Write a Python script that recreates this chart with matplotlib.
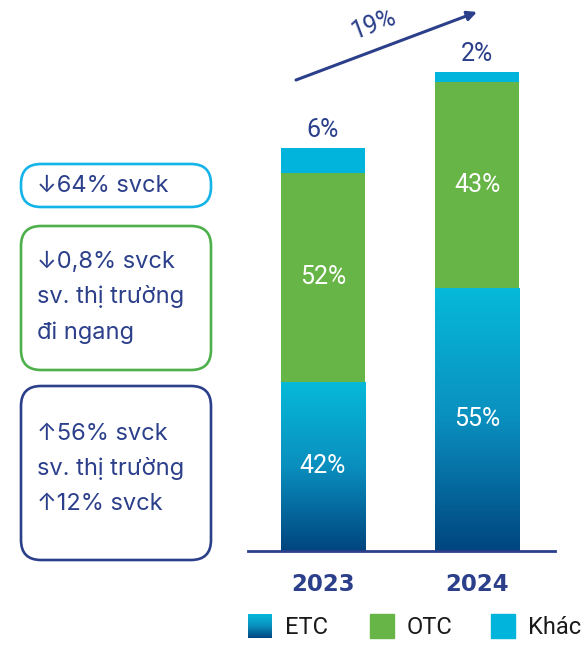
import numpy as np
import matplotlib.pyplot as plt
from matplotlib.patches import FancyBboxPatch, Rectangle
from matplotlib.colors import LinearSegmentedColormap

years = ['2023', '2024']
total = [100, 119]      # quy mo tuong doi, 2024 tang 19%
etc = [42, 55]          # % ty trong
otc = [52, 43]
khac = [6, 2]
growth = '19%'
legend_labels = ['ETC', 'OTC', 'Khác']
notes = [['↓64% svck'],
         ['↓0,8% svck', 'sv. thị trường', 'đi ngang'],
         ['↑56% svck', 'sv. thị trường', '↑12% svck']]

navy = '#2B3F8A'
green = '#66B546'
cyan = '#00B4DC'
cmap = LinearSegmentedColormap.from_list('etc', ['#00457F', '#0A8FBE', '#06BAD9'])
grad = np.linspace(1, 0, 256).reshape(-1, 1)

plt.rcParams['font.family'] = ['Roboto', 'DejaVu Sans']

fig = plt.figure(figsize=(5.85, 6.45), dpi=100)
W, H = 585, 645

# bar axes: left 248px, right 555px, baseline at 551px from top
ax = fig.add_axes([248 / W, (H - 551) / H, (555 - 248) / W, 551 / H])
x = np.arange(len(years))
w = 0.544
etc_h = np.array(total) * np.array(etc) / 100
otc_h = np.array(total) * np.array(otc) / 100
khac_h = np.array(total) * np.array(khac) / 100

bars = ax.bar(x, etc_h, w, color='none', edgecolor='none', zorder=2)
for b in bars:
    im = ax.imshow(grad, cmap=cmap, aspect='auto', zorder=2,
                   extent=(b.get_x(), b.get_x() + b.get_width(),
                           b.get_y(), b.get_y() + b.get_height()))
    im.set_clip_path(b)
ax.bar(x, otc_h, w, bottom=etc_h, color=green, zorder=2)
ax.bar(x, khac_h, w, bottom=etc_h + otc_h, color=cyan, zorder=2)

for i in x:
    ax.text(i, etc_h[i] / 2, f'{etc[i]}%', color='white', fontsize=18,
            ha='center', va='center', zorder=3)
    ax.text(i, etc_h[i] + otc_h[i] / 2, f'{otc[i]}%', color='white', fontsize=18,
            ha='center', va='center', zorder=3)
    ax.annotate(f'{khac[i]}%', (i, total[i]), xytext=(0, 13), textcoords='offset points',
                color=navy, fontsize=18, ha='center', va='center')

ax.set_xlim(-0.485, 1.502)
ax.set_ylim(0, 551 / (479 / 119))
for s in ['top', 'right', 'left']:
    ax.spines[s].set_visible(False)
ax.spines['bottom'].set_color(navy)
ax.spines['bottom'].set_linewidth(2)
ax.set_yticks([])
ax.set_xticks(x, years)
ax.tick_params(axis='x', length=0, pad=16, labelsize=16.5, labelcolor=navy)
for t in ax.get_xticklabels():
    t.set_fontweight('bold')
    t.set_family('DejaVu Sans')
ax.patch.set_visible(False)

# overlay in pixel coords for notes, arrow, legend
ov = fig.add_axes([0, 0, 1, 1])
ov.set_xlim(0, W)
ov.set_ylim(H, 0)
ov.axis('off')
ov.patch.set_visible(False)

boxes = [(164, 207, '#14B4E8', 20), (226, 370, '#4DB04B', 20), (386, 560, navy, 20)]
line_y = [[186], [262, 297, 333], [434, 469, 504]]
for (y0, y1, col, r), lines, ys in zip(boxes, notes, line_y):
    ov.add_patch(FancyBboxPatch((21 + r, y0 + r), 190 - 2 * r, (y1 - y0) - 2 * r,
                                boxstyle=f'round,pad={r}', fc='white', ec=col, lw=1.9))
    for txt, yy in zip(lines, ys):
        ov.text(37, yy, txt, color=navy, fontsize=17, ha='left', va='center',
                family=['Inter', 'DejaVu Sans'])

ov.annotate('', xy=(477, 12), xytext=(296, 80),
            arrowprops=dict(arrowstyle='-|>', color=navy, lw=2.2,
                            mutation_scale=14, shrinkA=0, shrinkB=0))
ov.text(374, 24, growth, color=navy, fontsize=18, rotation=20.6,
        rotation_mode='anchor', ha='center', va='center')

# legend
sq = 24
lx = [248, 370, 491]
ly = 614
ov.imshow(grad, cmap=cmap, aspect='auto', extent=(lx[0], lx[0] + sq, ly + sq, ly))
ov.add_patch(Rectangle((lx[1], ly), sq, sq, color=green))
ov.add_patch(Rectangle((lx[2], ly), sq, sq, color=cyan))
for xx, lab in zip(lx, legend_labels):
    ov.text(xx + sq + 13, ly + sq / 2 + 1, lab, fontsize=17, color='#1a1a1a',
            ha='left', va='center')
ov.set_xlim(0, W)
ov.set_ylim(H, 0)

fig.savefig('out.png', dpi=100)
